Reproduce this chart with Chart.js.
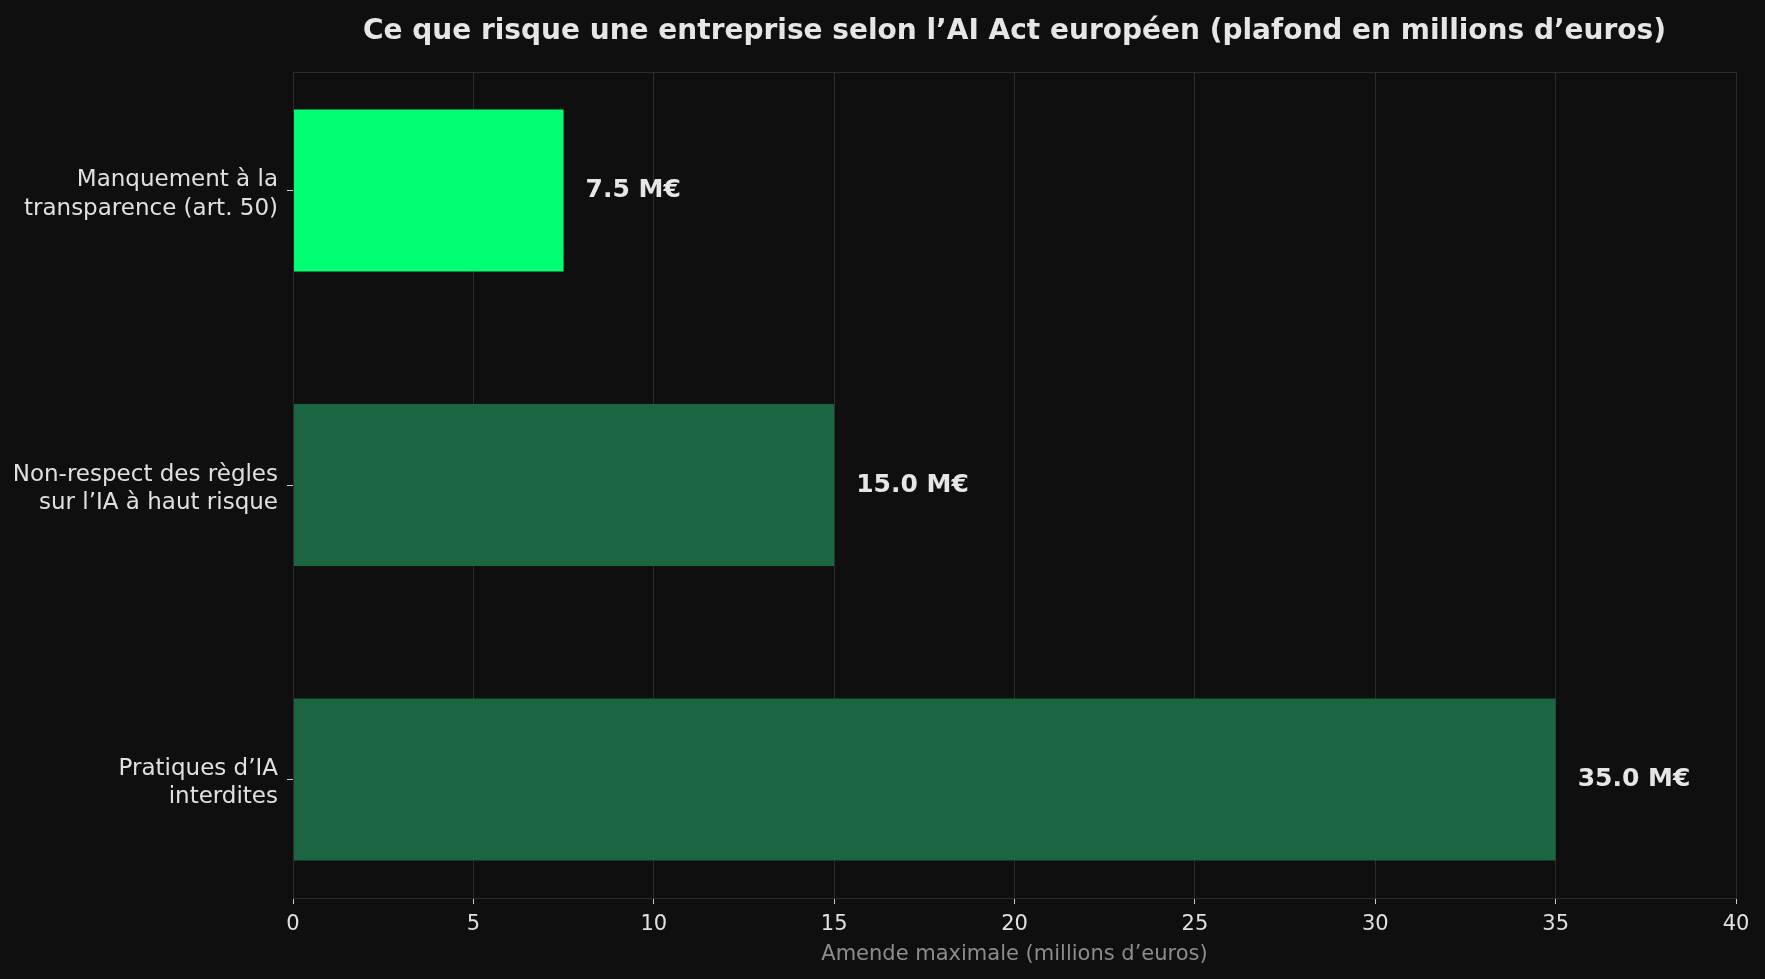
<!DOCTYPE html>
<html lang="fr">
<head>
<meta charset="UTF-8">
<title>AI Act - amendes</title>
<script src="https://cdn.jsdelivr.net/npm/chart.js@4.4.1/dist/chart.umd.min.js"></script>
<style>
  html, body { margin: 0; padding: 0; background: #0f0f0f; }
  #wrap { width: 1765px; height: 979px; }
</style>
</head>
<body>
<div id="wrap"><canvas id="myChart" width="1765" height="979"></canvas></div>
<script>
// categories, top to bottom
const categories = [
  ['Manquement à la', 'transparence (art. 50)'],
  ['Non-respect des règles', 'sur l’IA à haut risque'],
  ['Pratiques d’IA', 'interdites']
];
const fines = [7.5, 15, 35];
const barColors = ['#00ff73', '#1b6640', '#1b6640'];
const xTicks = [0, 5, 10, 15, 20, 25, 30, 35, 40];
const chartTitle = 'Ce que risque une entreprise selon l’AI Act européen (plafond en millions d’euros)';

const FONT = 'DejaVu Sans';

// frame round the plot + title centred over the plot area
const frame = {
  id: 'frame',
  afterDraw(chart) {
    const {ctx, chartArea: a} = chart;
    ctx.save();
    ctx.strokeStyle = '#2c2c2c';
    ctx.lineWidth = 1;
    ctx.strokeRect(a.left + 0.5, a.top + 0.5, a.right - a.left, a.bottom - a.top);
    ctx.font = 'bold 28px "' + FONT + '"';
    ctx.fillStyle = '#e6e6e6';
    ctx.textAlign = 'center';
    ctx.textBaseline = 'middle';
    ctx.fillText(chartTitle, (a.left + a.right) / 2, 32);
    ctx.restore();
  }
};

const valueLabels = {
  id: 'valueLabels',
  afterDatasetsDraw(chart) {
    const ctx = chart.ctx;
    const meta = chart.getDatasetMeta(0);
    ctx.save();
    ctx.font = 'bold 25px "' + FONT + '"';
    ctx.fillStyle = '#e6e6e6';
    ctx.textAlign = 'left';
    ctx.textBaseline = 'middle';
    meta.data.forEach((bar, i) => {
      ctx.fillText(fines[i].toFixed(1) + ' M€', bar.x + 22, bar.y);
    });
    ctx.restore();
  }
};

const ctx = document.getElementById('myChart').getContext('2d');
new Chart(ctx, {
  type: 'bar',
  data: {
    datasets: [{
      data: fines.map((v, i) => ({x: v, y: i})),
      backgroundColor: barColors,
      borderWidth: 0,
      barPercentage: 0.55,
      categoryPercentage: 1
    }]
  },
  options: {
    indexAxis: 'y',
    responsive: false,
    animation: false,
    devicePixelRatio: 1,
    layout: { padding: { left: 0, right: 29, top: 72, bottom: 0 } },
    plugins: {
      legend: { display: false },
      tooltip: { enabled: false },
      title: { display: false }
    },
    scales: {
      x: {
        type: 'linear',
        min: 0,
        max: 40,
        afterBuildTicks: s => { s.ticks = xTicks.map(v => ({value: v})); },
        afterFit: s => { s.height = 81; },
        ticks: { color: '#e0e0e0', font: { family: FONT, size: 21 }, padding: 8 },
        grid: { color: '#2c2c2c', tickColor: '#cccccc', tickLength: 6, lineWidth: 1 },
        border: { color: '#2c2c2c' },
        title: {
          display: true,
          text: 'Amende maximale (millions d’euros)',
          color: '#8c8c8c',
          font: { family: FONT, size: 21 },
          padding: { top: 0, bottom: 12 }
        }
      },
      y: {
        type: 'linear',
        min: -0.4025,
        max: 2.4025,
        reverse: true,
        offset: false,
        bounds: 'data',
        afterBuildTicks: s => { s.ticks = categories.map((c, i) => ({value: i})); },
        afterFit: s => { s.width = 293; },
        ticks: {
          color: '#e0e0e0',
          font: { family: FONT, size: 23, lineHeight: 1.22 },
          padding: 9,
          labelOffset: 4,
          callback: v => categories[v]
        },
        grid: { offset: false, drawOnChartArea: false, tickColor: '#cccccc', tickLength: 6 },
        border: { color: '#2c2c2c' }
      }
    }
  },
  plugins: [frame, valueLabels]
});
</script>
</body>
</html>
